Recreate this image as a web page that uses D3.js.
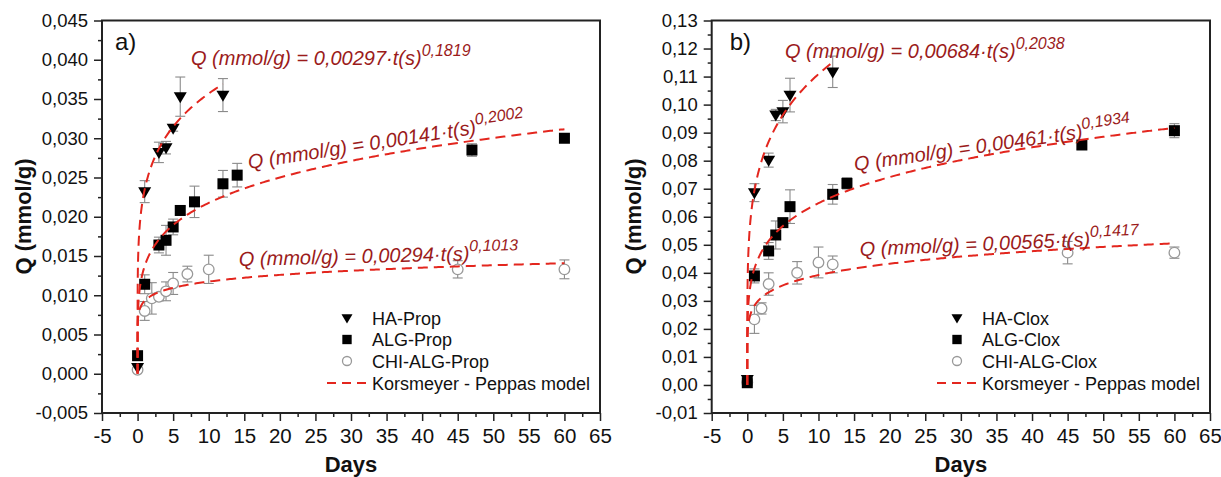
<!DOCTYPE html>
<html>
<head>
<meta charset="utf-8">
<script src="https://cdn.jsdelivr.net/npm/d3@7"></script>
<style>
  html, body { margin: 0; padding: 0; background: #fff; }
  svg { display: block; font-family: "Liberation Sans", Arial, sans-serif; }
</style>
</head>
<body>
<svg id="chart" width="1221" height="477"></svg>
<script>
// ---- Panel a: propranolol release ----
const haPropDays = [0, 1, 3, 4, 5, 6, 12];
const haPropQ    = [0.0008, 0.0232, 0.0282, 0.0288, 0.0313, 0.0353, 0.0355];
const haPropErr  = [0.0003, 0.0014, 0.0013, 0.0008, 0.0004, 0.0025, 0.0021];

const algPropDays = [0, 1, 3, 4, 5, 6, 8, 12, 14, 47, 60];
const algPropQ    = [0.0023, 0.0114, 0.0164, 0.0170, 0.0187, 0.0208, 0.0219, 0.0242, 0.0253, 0.0285, 0.0300];
const algPropErr  = [0.0003, 0.0012, 0.0010, 0.0019, 0.0010, 0.0005, 0.0020, 0.0017, 0.0015, 0.0008, 0.0004];

const chiPropDays = [0, 1, 2, 3, 4, 5, 7, 10, 45, 60];
const chiPropQ    = [0.0005, 0.0080, 0.0096, 0.0098, 0.0105, 0.0115, 0.0127, 0.0133, 0.0133, 0.0133];
const chiPropErr  = [0.0002, 0.0012, 0.0020, 0.0005, 0.0012, 0.0014, 0.0010, 0.0018, 0.0011, 0.0012];

// ---- Panel b: cloxacillin release ----
const haCloxDays = [0, 1, 3, 4, 5, 6, 12];
const haCloxQ    = [0.0020, 0.0686, 0.0802, 0.0963, 0.0975, 0.1034, 0.1117];
const haCloxErr  = [0.0010, 0.0032, 0.0025, 0.0020, 0.0040, 0.0060, 0.0056];

const algCloxDays = [0, 1, 3, 4, 5, 6, 12, 14, 47, 60];
const algCloxQ    = [0.0008, 0.0389, 0.0478, 0.0535, 0.0579, 0.0636, 0.0680, 0.0719, 0.0856, 0.0907];
const algCloxErr  = [0.0010, 0.0025, 0.0030, 0.0050, 0.0010, 0.0060, 0.0035, 0.0020, 0.0015, 0.0025];

const chiCloxDays = [0, 1, 2, 3, 7, 10, 12, 45, 60];
const chiCloxQ    = [0.0010, 0.0234, 0.0273, 0.0360, 0.0400, 0.0437, 0.0430, 0.0472, 0.0472];
const chiCloxErr  = [0.0010, 0.0050, 0.0020, 0.0040, 0.0040, 0.0055, 0.0030, 0.0040, 0.0020];

// Korsmeyer-Peppas fits: Q = k * t(s)^n, drawn up to the last day of each series
const fitK    = { haProp: 0.00297, algProp: 0.00141, chiProp: 0.00294, haClox: 0.00684, algClox: 0.00461, chiClox: 0.00565 };
const fitN    = { haProp: 0.1819,  algProp: 0.2002,  chiProp: 0.1013,  haClox: 0.2038,  algClox: 0.1934,  chiClox: 0.1417 };
const fitEnd  = { haProp: 12, algProp: 60, chiProp: 60, haClox: 12, algClox: 60, chiClox: 60 };
const fitKText = { haProp: "0,00297", algProp: "0,00141", chiProp: "0,00294", haClox: "0,00684", algClox: "0,00461", chiClox: "0,00565" };
const fitNText = { haProp: "0,1819", algProp: "0,2002", chiProp: "0,1013", haClox: "0,2038", algClox: "0,1934", chiClox: "0,1417" };

// Axis ticks
const xTicks = [-5, 0, 5, 10, 15, 20, 25, 30, 35, 40, 45, 50, 55, 60, 65];
const yTicksA = [-0.005, 0, 0.005, 0.010, 0.015, 0.020, 0.025, 0.030, 0.035, 0.040, 0.045];
const yTicksB = [-0.01, 0, 0.01, 0.02, 0.03, 0.04, 0.05, 0.06, 0.07, 0.08, 0.09, 0.10, 0.11, 0.12, 0.13];

const legendA = ["HA-Prop", "ALG-Prop", "CHI-ALG-Prop", "Korsmeyer - Peppas model"];
const legendB = ["HA-Clox", "ALG-Clox", "CHI-ALG-Clox", "Korsmeyer - Peppas model"];

const comma = d3.formatLocale({ decimal: ",", thousands: ".", grouping: [3], currency: ["", ""], minus: "-" });

const svg = d3.select("#chart");
const RED = "#e3261e";
const EQ = "#9b1b1b";
const GREY = "#8a8a8a";

function drawPanel(p) {
  const x = d3.scaleLinear().domain([-5, 65]).range([p.left, p.right]);
  const y = d3.scaleLinear().domain(p.yDomain).range([413, 20.5]);
  const g = svg.append("g");

  // minor ticks
  const xMinor = d3.range(-2.5, 65, 5);
  const yMinor = d3.range(p.yDomain[0] + p.yStep / 2, p.yDomain[1], p.yStep);
  g.append("g").attr("transform", `translate(0,413)`)
    .call(d3.axisBottom(x).tickValues(xMinor).tickSize(4).tickFormat(""))
    .call(a => a.select(".domain").remove())
    .call(a => a.selectAll("line").attr("stroke", "#222").attr("stroke-width", 1.5));
  g.append("g").attr("transform", `translate(${p.left},0)`)
    .call(d3.axisLeft(y).tickValues(yMinor).tickSize(4).tickFormat(""))
    .call(a => a.select(".domain").remove())
    .call(a => a.selectAll("line").attr("stroke", "#222").attr("stroke-width", 1.5));

  // major ticks + labels
  g.append("g").attr("transform", `translate(0,413)`)
    .call(d3.axisBottom(x).tickValues(xTicks).tickSize(8).tickPadding(7).tickFormat(d3.format("d")))
    .call(a => a.select(".domain").remove())
    .call(a => a.selectAll("line").attr("stroke", "#222").attr("stroke-width", 1.5))
    .call(a => a.selectAll("text").attr("font-size", 20.5).attr("fill", "#111")
      .attr("font-family", "Liberation Sans, Arial, sans-serif").text(d => d3.format("d")(d).replace("−", "-")));
  g.append("g").attr("transform", `translate(${p.left},0)`)
    .call(d3.axisLeft(y).tickValues(p.yTicks).tickSize(8).tickPadding(6).tickFormat(comma.format(p.yFmt)))
    .call(a => a.select(".domain").remove())
    .call(a => a.selectAll("line").attr("stroke", "#222").attr("stroke-width", 1.5))
    .call(a => a.selectAll("text").attr("font-size", 18.5).attr("fill", "#111")
      .attr("font-family", "Liberation Sans, Arial, sans-serif"));

  // frame
  g.append("rect").attr("x", p.left).attr("y", 20.5)
    .attr("width", p.right - p.left).attr("height", 413 - 20.5)
    .attr("fill", "none").attr("stroke", "#222").attr("stroke-width", 2);

  // axis titles
  g.append("text").attr("x", (p.left + p.right) / 2).attr("y", 472)
    .attr("text-anchor", "middle").attr("font-weight", "bold").attr("font-size", 22)
    .attr("fill", "#111").text("Days");
  g.append("text").attr("transform", `translate(${p.left - 71},216.5) rotate(-90)`)
    .attr("text-anchor", "middle").attr("font-weight", "bold").attr("font-size", 22)
    .attr("fill", "#111").text("Q (mmol/g)");

  // panel tag
  g.append("text").attr("x", p.left + p.tagDx).attr("y", 50).attr("font-size", 24)
    .attr("fill", "#111").text(p.tag);

  // error bars
  const cap = 5;
  p.series.forEach(s => {
    const eg = g.append("g").attr("stroke", GREY).attr("stroke-width", 1.1).attr("fill", "none");
    s.days.forEach((d, i) => {
      const cx = x(d), lo = y(s.q[i] - s.err[i]), hi = y(s.q[i] + s.err[i]);
      eg.append("line").attr("x1", cx).attr("x2", cx).attr("y1", lo).attr("y2", hi);
      eg.append("line").attr("x1", cx - cap).attr("x2", cx + cap).attr("y1", lo).attr("y2", lo);
      eg.append("line").attr("x1", cx - cap).attr("x2", cx + cap).attr("y1", hi).attr("y2", hi);
    });
  });

  // markers
  p.series.forEach(s => {
    const mg = g.append("g");
    s.days.forEach((d, i) => drawMarker(mg, s.shape, x(d), y(s.q[i]), 1));
  });

  // model curves
  const line = d3.line().x(d => x(d[0])).y(d => y(d[1]));
  p.fits.forEach(key => {
    const k = fitK[key], n = fitN[key], end = fitEnd[key];
    const ts = [0].concat(d3.range(-9, 0, 0.05).map(e => Math.pow(10, e)), d3.range(1, end + 0.001, 0.25));
    const pts = ts.map(t => [t, k * Math.pow(t * 86400, n)]);
    g.append("path").datum(pts).attr("d", line)
      .attr("fill", "none").attr("stroke", RED).attr("stroke-width", 2)
      .attr("stroke-dasharray", "10,6");
  });

  // equations
  p.labels.forEach(l => {
    const t = g.append("text")
      .attr("transform", `translate(${l.x},${l.y}) rotate(${l.rot})`)
      .attr("font-style", "italic").attr("fill", EQ).attr("font-size", 20);
    t.append("tspan").text(`Q (mmol/g) = ${fitKText[l.key]}\u00b7t(s)`);
    t.append("tspan").attr("dy", -9).attr("font-size", 16).text(fitNText[l.key]);
  });

  // legend
  const lg = g.append("g");
  const rows = [318, 339.5, 361, 383];
  const shapes = ["tri", "sq", "circ"];
  p.legend.forEach((name, i) => {
    if (i < 3) drawMarker(lg, shapes[i], p.legX, rows[i], 0.85);
    else lg.append("line").attr("x1", p.legX - 20).attr("x2", p.legX + 19)
      .attr("y1", rows[i]).attr("y2", rows[i]).attr("stroke", RED).attr("stroke-width", 2)
      .attr("stroke-dasharray", "9,6");
    lg.append("text").attr("x", p.legX + 25).attr("y", rows[i] + 6.5)
      .attr("font-size", 18).attr("fill", "#111").text(name);
  });
}

function drawMarker(sel, shape, cx, cy, s) {
  if (shape === "tri") {
    const w = 6.5 * s, h = 11 * s;
    sel.append("path")
      .attr("d", `M${cx - w},${cy - h * 0.4}L${cx + w},${cy - h * 0.4}L${cx},${cy + h * 0.6}Z`)
      .attr("fill", "#000");
  } else if (shape === "sq") {
    const a = 11 * s;
    sel.append("rect").attr("x", cx - a / 2).attr("y", cy - a / 2)
      .attr("width", a).attr("height", a).attr("fill", "#000");
  } else {
    sel.append("circle").attr("cx", cx).attr("cy", cy).attr("r", 5.3 * s)
      .attr("fill", "#fff").attr("stroke", "#999").attr("stroke-width", 1.3);
  }
}

drawPanel({
  left: 102, right: 600, yDomain: [-0.005, 0.045], yStep: 0.005, yTicks: yTicksA, yFmt: ".3f",
  tag: "a)", tagDx: 13,
  series: [
    { days: chiPropDays, q: chiPropQ, err: chiPropErr, shape: "circ" },
    { days: algPropDays, q: algPropQ, err: algPropErr, shape: "sq" },
    { days: haPropDays, q: haPropQ, err: haPropErr, shape: "tri" }
  ],
  fits: ["haProp", "algProp", "chiProp"],
  labels: [
    { key: "haProp", x: 191, y: 65, rot: 0 },
    { key: "algProp", x: 249, y: 169, rot: -8.8 },
    { key: "chiProp", x: 239, y: 266, rot: -1.4 }
  ],
  legend: legendA, legX: 347
});

drawPanel({
  left: 711.7, right: 1210, yDomain: [-0.01, 0.13], yStep: 0.01, yTicks: yTicksB, yFmt: ".2f",
  tag: "b)", tagDx: 18,
  series: [
    { days: chiCloxDays, q: chiCloxQ, err: chiCloxErr, shape: "circ" },
    { days: algCloxDays, q: algCloxQ, err: algCloxErr, shape: "sq" },
    { days: haCloxDays, q: haCloxQ, err: haCloxErr, shape: "tri" }
  ],
  fits: ["haClox", "algClox", "chiClox"],
  labels: [
    { key: "haClox", x: 785, y: 58, rot: 0 },
    { key: "algClox", x: 855, y: 171, rot: -8.2 },
    { key: "chiClox", x: 860, y: 256, rot: -2.5 }
  ],
  legend: legendB, legX: 957
});
</script>
</body>
</html>
